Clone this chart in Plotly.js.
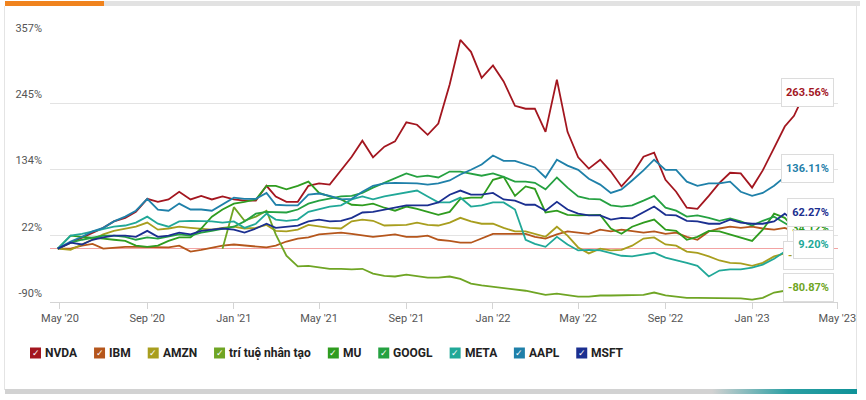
<!DOCTYPE html>
<html><head><meta charset="utf-8">
<script src="https://cdn.plot.ly/plotly-3.0.1.min.js"></script>
<style>
body{margin:0;background:#fff;}
#wrap{position:relative;width:866px;height:400px;overflow:hidden;background:#fff;}
#chart{position:absolute;left:0;top:0;width:866px;height:400px;}
.deco{position:absolute;}
</style></head>
<body>
<div id="wrap">
  <div class="deco" style="left:5px;top:1px;width:855px;height:5px;background:#e2e2e2"></div>
  <div class="deco" style="left:5px;top:1px;width:99px;height:5px;background:#f0831e"></div>
  <div class="deco" style="left:4px;top:6px;width:1px;height:384px;background:#e4e4e4"></div>
  <div class="deco" style="left:856px;top:6px;width:1px;height:384px;background:#e4e4e4"></div>
  <div class="deco" style="left:5px;top:389px;width:852px;height:5px;background:linear-gradient(to right,#d2d2d2 0%,#d2d2d2 83%,#2a9fa3 92%,#0f9298 100%)"></div>
  <div id="chart"></div>
</div>
<script>
// ---------- data ----------
const dates = ["2020-04-28","2020-05-16","2020-06-01","2020-06-16","2020-07-01","2020-07-16","2020-08-01","2020-08-16","2020-09-01","2020-09-16","2020-10-01","2020-10-16","2020-11-01","2020-11-16","2020-12-01","2020-12-16",
"2021-01-01","2021-01-16","2021-02-01","2021-02-16","2021-03-01","2021-03-16","2021-04-01","2021-04-16","2021-05-01","2021-05-16","2021-06-01","2021-06-16","2021-07-01","2021-07-16","2021-08-01","2021-08-16","2021-09-01","2021-09-16","2021-10-01","2021-10-16","2021-11-01","2021-11-16","2021-12-01","2021-12-16",
"2022-01-01","2022-01-16","2022-02-01","2022-02-16","2022-03-01","2022-03-16","2022-04-01","2022-04-16","2022-05-01","2022-05-16","2022-06-01","2022-06-16","2022-07-01","2022-07-16","2022-08-01","2022-08-16","2022-09-01","2022-09-16","2022-10-01","2022-10-16","2022-11-01","2022-11-16","2022-12-01","2022-12-16",
"2023-01-01","2023-01-16","2023-02-01","2023-02-16","2023-03-01","2023-03-16"];

const seriesNames = ["NVDA","IBM","AMZN","trí tuệ nhân tạo","MU","GOOGL","META","AAPL","MSFT"];

const nvda = [0,10,19,27,35,46,52,62,84,79, 83,96,83,89,83,88,83,81,81,106, 88,79,79,106,110,108,133,155,182,154, 172,181,213,209,192,211,277,352,332,288, 309,282,241,236,236,197,285,197,154,135, 150,130,105,125,155,162,116,96,69,67, 89,111,128,127,103,132,170,206,224,262];
const ibm = [0,0,5,8,0,2,3,3,3,3, 2,5,-5,-2,2,5,7,5,3,2, 5,12,17,19,24,25,27,25,22,20, 22,24,20,20,22,15,13,10,10,17, 25,25,25,25,20,17,24,29,27,25, 32,29,32,29,27,29,25,27,20,15, 29,34,37,35,37,34,32,35,29,null];
const amzn = [0,-2,7,15,24,30,34,37,44,32, 34,37,35,34,32,35,37,34,35,40, 30,29,32,40,37,35,34,46,49,47, 39,39,40,44,40,39,44,52,46,42, 42,35,29,29,25,20,37,22,2,-8, 0,-3,-2,5,17,19,7,5,-5,-7, -13,-20,-24,-25,-29,-24,-13,-8,-22,null];
const ai = [null,null,null,null,null,null,null,null,null,null, null,null,null,null,null,0,70,47,54,64, 24,-12,-30,-29,-32,-34,-34,-35,-34,-42, -46,-47,-44,-47,-49,-49,-47,-51,-59,-62, -64,-67,-69,-71,-74,-78,-76,-79,-81,-81, -79,-79,-79,-79,-78,-74,-79,-81,-83,-83, -83,-83,-83,-84,-86,-83,-74,-71,-76,null];
const mu = [0,22,20,19,17,15,13,5,3,5, 13,19,19,34,54,66,76,79,83,106, 106,100,106,113,94,88,83,74,73,76, 69,64,71,67,62,57,62,84,86,86, 116,121,89,105,101,61,64,57,56,56, 57,34,25,37,44,49,32,30,15,20, 30,29,24,19,13,32,59,52,35,null];
const googl = [0,10,15,19,22,22,20,15,19,17, 20,24,22,27,30,34,37,46,59,62, 61,61,66,76,81,84,88,89,94,103, 111,118,127,121,123,120,130,130,127,123, 127,121,113,113,111,100,120,103,88,84, 83,73,71,73,81,89,69,64,54,56, 52,47,51,46,39,47,54,44,34,null];
const meta = [0,22,25,29,34,37,39,44,54,42, 37,46,47,47,46,44,46,35,42,59, 49,47,49,62,67,71,73,83,88,83, 88,91,94,98,88,78,78,86,71,73, 78,78,66,15,8,3,20,7,-3,-2, -3,-7,-12,-13,-10,-7,-15,-19,-24,-29, -47,-37,-35,-35,-32,-27,-17,-5,-7,null];
const aapl = [0,12,20,29,35,46,54,64,84,66, 64,76,66,66,64,74,86,84,84,94, 74,73,73,91,93,89,83,84,96,106, 110,111,111,110,108,110,115,125,133,142, 157,148,148,142,137,120,150,140,133,118, 108,94,100,115,132,150,133,133,113,106, 110,110,113,96,89,94,106,121,116,null];
const msft = [0,10,7,15,19,22,22,20,30,20, 22,27,24,30,32,34,32,27,34,42, 35,37,39,46,49,46,47,52,61,62, 66,69,73,73,73,78,91,98,91,91, 94,83,81,74,74,64,79,66,59,56, 56,49,52,51,62,71,57,56,47,46, 42,42,49,44,42,42,46,59,46,null];

const yTickVals = [-90, 21.75, 133.5, 245.25, 357];
const yTickText = ["-90%","22%","134%","245%","357%"];
const xTickVals = ["2020-05-01","2020-09-01","2021-01-01","2021-05-01","2021-09-01","2022-01-01","2022-05-01","2022-09-01","2023-01-01","2023-05-01"];
const xTickText = ["May '20","Sep '20","Jan '21","May '21","Sep '21","Jan '22","May '22","Sep '22","Jan '23","May '23"];

// end-value labels (drawn in this order; later ones on top)
const endLabelText = ["34.12%","-11.86%","263.56%","136.11%","62.27%","9.20%","-80.87%"];
const endLabelSeries = ["MU","AMZN","NVDA","AAPL","MSFT","META","trí tuệ nhân tạo"];

// ---------- styles ----------
const colors = {"NVDA":"#a3161f","IBM":"#b5561c","AMZN":"#a89e1e","trí tuệ nhân tạo":"#6fa524","MU":"#2f9c1f","GOOGL":"#25a141","META":"#21a898","AAPL":"#1f80a9","MSFT":"#1b2f90"};
const FONT = "Roboto, sans-serif";
const values = [nvda, ibm, amzn, ai, mu, googl, meta, aapl, msft];

const W = 866, H = 400, M = {l:50, r:28, t:37, b:98};
const pw = W - M.l - M.r, ph = H - M.t - M.b;
const px = x => (x - M.l) / pw;
const py = y => (H - M.b - y) / ph;
const ctx = document.createElement('canvas').getContext('2d');
const textW = (t, f) => { ctx.font = f; return ctx.measureText(t).width; };

const traces = seriesNames.map((n, i) => ({
  type: 'scatter', mode: 'lines', name: n, x: dates, y: values[i],
  line: {color: colors[n], width: 1.8}, hoverinfo: 'skip', showlegend: false
}));

const shapes = [], annotations = [];
// custom legend (checkbox style), laid out from measured text widths
const LEG_SIZE = 12;
const legendY = 353;
let lx = 30;
seriesNames.forEach((n) => {
  const x0 = lx;
  shapes.push({type:'rect', xref:'paper', yref:'paper', x0:px(x0), x1:px(x0+11), y0:py(legendY+5.5), y1:py(legendY-5.5),
    fillcolor: colors[n], line:{width:0}, layer:'above'});
  annotations.push({xref:'paper', yref:'paper', x:px(x0+5.5), y:py(legendY), text:'✓', showarrow:false,
    xanchor:'center', yanchor:'middle', font:{family:'DejaVu Sans', size:9, color:'#fff'}});
  annotations.push({xref:'paper', yref:'paper', x:px(x0+13), y:py(legendY), text:'<b>'+n+'</b>', showarrow:false,
    xanchor:'left', yanchor:'middle', font:{family:FONT, size:LEG_SIZE, color:'#222'}});
  lx = x0 + 13 + textW(n, 'bold ' + LEG_SIZE + 'px Roboto') + 2 + 17;
});
// end labels
const LAB_SIZE = 11;
const endLabelY = [228, 255, 93, 168, 212, 244, 287];
endLabelText.forEach((t, i) => {
  const tw = textW(t, 'bold ' + LAB_SIZE + 'px Roboto');
  annotations.push({xref:'paper', yref:'paper', x:px(834), y:py(endLabelY[i]), text:'<b>'+t+'</b>', showarrow:false,
    xanchor:'right', yanchor:'middle', bgcolor:'#fff', bordercolor:'#dcdcdc', borderwidth:1, borderpad:3,
    width: Math.ceil(tw) + 2, height: 21,
    font:{family:FONT, size:LAB_SIZE, color: colors[endLabelSeries[i]]}});
});

const layout = {
  width: W, height: H, margin: M,
  paper_bgcolor: 'rgba(0,0,0,0)', plot_bgcolor: 'rgba(0,0,0,0)',
  font: {family: FONT, color: '#555'},
  xaxis: {type:'date', range:['2020-04-17','2023-05-02'], tickvals:xTickVals, ticktext:xTickText,
    showgrid:false, zeroline:false, showline:true, linecolor:'#d4d4d4', linewidth:1,
    ticks:'outside', ticklen:6, tickcolor:'#d4d4d4', tickfont:{size:11, color:'#555', family:FONT}},
  yaxis: {range:[-90,357], tickvals:yTickVals, ticktext:yTickText, showgrid:true, gridcolor:'#e3e3e3', gridwidth:1,
    zeroline:true, zerolinecolor:'#f3a3a3', zerolinewidth:1, showline:false, ticks:'',
    ticklabelshift:-9, ticklabelstandoff:7, tickfont:{size:11, color:'#555', family:FONT}},
  shapes: shapes, annotations: annotations, showlegend:false
};
Plotly.newPlot('chart', traces, layout, {displayModeBar:false, staticPlot:true});
</script>
</body></html>
